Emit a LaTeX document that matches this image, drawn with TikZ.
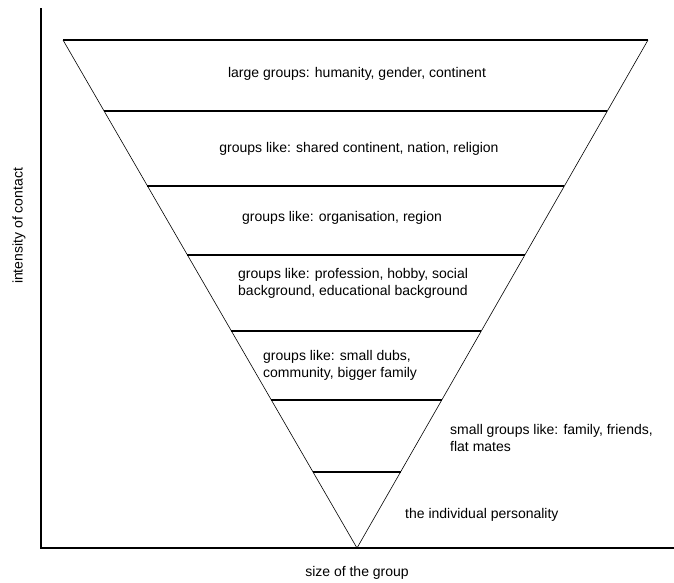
\documentclass[tikz,border=0pt]{standalone}
\usepackage{fontspec}
\setmainfont{Liberation Sans}
\usetikzlibrary{calc}

\begin{document}
\begin{tikzpicture}[
                    x=1pt, y=-1pt,
                    every node/.style={
                        inner sep=0pt,
                        font=\fontsize{14}{17}\selectfont
                    },
                    layer/.style={line width=1.1pt},
                    side/.style={line width=0.6pt},
                    axis/.style={line width=1.1pt}
                ]
                    \useasboundingbox (0,0) rectangle (674,582);

                    % axes
                    \coordinate (o) at (41,548);
                    \coordinate (ytop) at (41,8);
                    \coordinate (xend) at (674,548);
                    \draw[axis] (ytop) -- (o) -- (xend);

                    % the funnel
                    \coordinate (tl) at (63,40);
                    \coordinate (tr) at (648,40);
                    \coordinate (ap) at (357,548);
                    \draw[layer] (tl) -- (tr);
                    \draw[side] (tl) -- (ap) -- (tr);
                    \foreach \t in {0.1398,0.2874,0.4232,0.5728,0.7087,0.8504}
                        \draw[layer] ($(tl)!\t!(ap)$) -- ($(tr)!\t!(ap)$);

                    % labels
                    \node (large) at (357,74) {large groups: humanity, gender, continent};
                    \node (shared) at (359,149) {groups like: shared continent, nation, religion};
                    \node[anchor=west] (orga) at (242,218) {groups like: organisation, region};
                    \node[anchor=west, align=left] (prof) at (238,283) {groups like: profession, hobby, social\\background, educational background};
                    \node[anchor=west, align=left] (club) at (263,365) {groups like: small dubs,\\community, bigger family};
                    \node[anchor=west, align=left] (small) at (450,438) {small groups like: family, friends,\\flat mates};
                    \node[anchor=west] (indiv) at (405,515) {the individual personality};

                    % axis titles
                    \node (xlab) at (357,573) {size of the group};
                    \node[rotate=90] (ylab) at (19,226) {intensity of contact};
                \end{tikzpicture}
\end{document}
